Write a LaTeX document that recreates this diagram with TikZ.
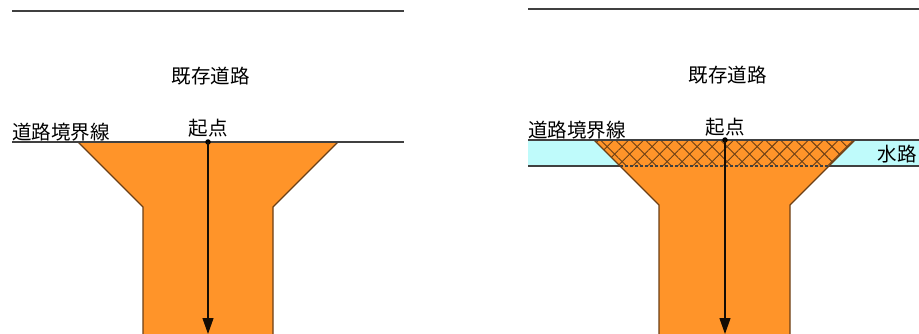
\documentclass[tikz,border=0pt]{standalone}
\usepackage{xcolor}
\usepackage{fontspec}
\usepackage{tikz}
\usetikzlibrary{arrows.meta}
\usetikzlibrary{patterns.meta}
\newfontfamily\cjk{Noto Sans CJK JP}
\definecolor{roadfill}{HTML}{FF9429}
\definecolor{roadedge}{HTML}{6B3F16}
\definecolor{waterfill}{HTML}{BFFBFB}
\tikzset{
  label node/.style={font=\cjk\fontsize{19.5pt}{21pt}\selectfont,inner sep=0pt},
  start dot/.style={circle,fill=black,inner sep=0pt,minimum size=5.5pt},
  road line/.style={draw=black!75,line width=1.2pt},
  road shape/.style={fill=roadfill,draw=roadedge,line width=1.2pt},
  run arrow/.style={-{Triangle[width=11pt,length=16pt]},draw=black!80!roadedge,line width=1.2pt}
}

\begin{document}
\begin{tikzpicture}[x=1pt,y=-1pt]
	\useasboundingbox (0,0) rectangle (919,334);
	% left panel
	\coordinate (a1) at (12,11);
	\coordinate (a2) at (404,11);
	\coordinate (b1) at (12,142);
	\coordinate (b2) at (404,142);
	\coordinate (e1) at (208,334);
	\draw [road line] (a1) -- (a2);
	\fill [road shape] (78,142) -- (143,207) -- (143,335) -- (273,335) -- (273,207) -- (338,142) -- cycle;
	\draw [road line] (b1) -- (b2);
	\node [label node] (exist1) at (210.5,76) {既存道路};
	\node [label node] (edge1) at (61,132.5) {道路境界線};
	\node [label node] (start1) at (208,128) {起点};
	\node [start dot] (p1) at (208,142) {};
	\draw [run arrow] (p1.center) -- (e1);
	% right panel
	\coordinate (c1) at (528,9);
	\coordinate (c2) at (919,9);
	\coordinate (d1) at (528,140);
	\coordinate (d2) at (919,140);
	\coordinate (f1) at (528,166);
	\coordinate (f2) at (919,166);
	\coordinate (e2) at (725,334);
	\fill [waterfill] (d1) rectangle (f2);
	\draw [road line] (c1) -- (c2);
	\draw [road line] (f1) -- (f2);
	\fill [road shape] (594,140) -- (659,205) -- (659,335) -- (790,335) -- (790,205) -- (855,140) -- cycle;
	\fill [pattern={Lines[angle=45,distance=10.6pt,line width=0.9pt]},pattern color=roadedge] (594,140) -- (620,166) -- (829,166) -- (855,140) -- cycle;
	\fill [pattern={Lines[angle=-45,distance=10.6pt,line width=0.9pt]},pattern color=roadedge] (594,140) -- (620,166) -- (829,166) -- (855,140) -- cycle;
	\draw [road line] (d1) -- (d2);
	\draw [road line,densely dashed] (620,166) -- (829,166);
	\node [label node] (exist2) at (727.5,75) {既存道路};
	\node [label node] (edge2) at (577,130.5) {道路境界線};
	\node [label node] (start2) at (725,127) {起点};
	\node [label node] (water) at (897,154) {水路};
	\node [start dot] (p2) at (725,140) {};
	\draw [run arrow] (p2.center) -- (e2);
\end{tikzpicture}
\end{document}
